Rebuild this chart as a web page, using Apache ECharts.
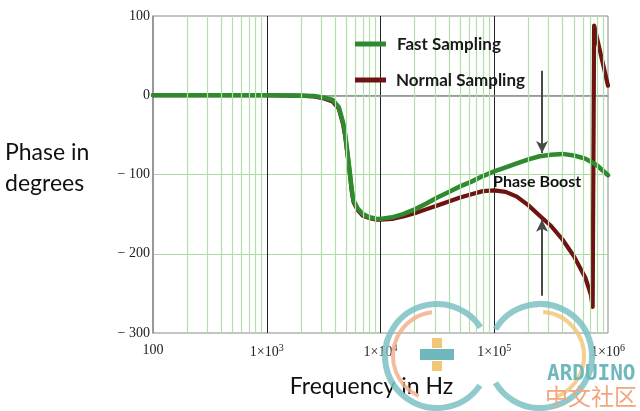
<!DOCTYPE html>
<html>
<head>
<meta charset="utf-8">
<script src="https://cdn.jsdelivr.net/npm/echarts@6/dist/echarts.min.js"></script>
<style>html,body{margin:0;padding:0;background:#fff;}#c{width:640px;height:411px;}</style>
</head>
<body>
<div id="c"></div>
<script>
// ---- data ----
var freqFast  = [100, 1000, 2000, 2600, 3200, 3800, 4300, 4700, 4900, 5200, 5400, 5600, 5800, 6300, 7000, 8000, 9300, 10000, 12600, 15800, 20000, 25100, 31600, 39800, 50100, 63100, 79400, 100000, 126000, 158000, 200000, 251000, 316000, 398000, 501000, 631000, 794000, 1000000];
var phaseFast = [0, 0, -0.5, -1, -3, -6, -15, -35, -50, -80, -100, -120, -133, -143, -150, -154, -156, -156, -154, -150, -144, -137, -129, -122, -115, -109, -102, -96, -91, -86, -81, -77, -75, -74, -76, -80, -88, -101];
var freqNormal  = [100, 1000, 2000, 2600, 3200, 3800, 4300, 4700, 4900, 5200, 5400, 5600, 5800, 6300, 7000, 8000, 9300, 10000, 12600, 15800, 20000, 25100, 31600, 39800, 50100, 63100, 79400, 100000, 126000, 158000, 200000, 251000, 316000, 398000, 501000, 631000, 708000, 733000, 755000, 1000000];
var phaseNormal = [0, 0, -0.5, -1.5, -4, -8, -17, -37, -52, -82, -102, -122, -135, -145, -152, -155, -157, -157, -156, -153, -149, -144, -139, -134, -129, -125, -121, -120, -122, -128, -139, -152, -165, -182, -203, -230, -252, -267, 88, 12];
var seriesNames = ['Fast Sampling', 'Normal Sampling'];
var arrowX = 263000;
var arrowDown = [31, -73];   // top arrow: from, to
var arrowUp = [-253, -157];  // bottom arrow: from, to

function pairs(xs, ys) { return xs.map(function (x, i) { return [x, ys[i]]; }); }

// minor log grid lines (2..9 of each decade)
var minorLines = [];
for (var d = 100; d < 1000000; d *= 10) {
  for (var k = 2; k <= 9; k++) minorLines.push({ xAxis: d * k });
}

var chart = echarts.init(document.getElementById('c'), null, { renderer: 'canvas' });
var serif = '"Liberation Serif","DejaVu Serif",serif';
var sans = 'Lato,"Open Sans","Noto Sans",sans-serif';
var green = '#2f8a2f', red = '#6e1212';

chart.setOption({
  animation: false,
  backgroundColor: '#ffffff',
  grid: { left: 153, right: 32, top: 16, bottom: 78, show: true, borderColor: '#8a8a8a', borderWidth: 1, backgroundColor: 'transparent' },
  xAxis: {
    type: 'log', logBase: 10, min: 100, max: 1000000,
    name: 'Frequency in Hz', nameLocation: 'middle', nameGap: 42,
    nameTextStyle: { fontFamily: sans, fontSize: 23, color: '#111', padding: [0, 18, 0, 0] },
    axisLine: { show: true, lineStyle: { color: '#8a8a8a', width: 1.5 } },
    axisTick: { show: false },
    axisLabel: {
      margin: 10, color: '#222', fontFamily: serif, fontSize: 14,
      formatter: function (v) {
        var e = Math.round(Math.log10(v));
        if (e === 2) return '100';
        return '1×10{sup|' + e + '}';
      },
      rich: { sup: { fontFamily: serif, fontSize: 10, verticalAlign: 'top', padding: [0, 0, 8, 0] } }
    },
    splitLine: { show: true, showMinLine: false, showMaxLine: false, lineStyle: { color: '#222', width: 1 } }
  },
  yAxis: {
    type: 'value', min: -300, max: 100, interval: 100,
    axisLine: { show: true, lineStyle: { color: '#8a8a8a', width: 1.5 } },
    axisTick: { show: false },
    axisLabel: {
      margin: 3, color: '#222', fontFamily: serif, fontSize: 14,
      formatter: function (v) { return v < 0 ? '− ' + Math.abs(v) : String(v); }
    },
    splitLine: { show: true, showMinLine: false, showMaxLine: false, lineStyle: { color: '#a9dba0', width: 1.2 } }
  },
  series: [
    {
      name: 'minor', type: 'line', data: [], z: 1, silent: true,
      markLine: { silent: true, symbol: ['none', 'none'], label: { show: false },
        lineStyle: { color: '#b3e0aa', width: 1.2, type: 'solid' }, data: minorLines, animation: false }
    },
    {
      name: seriesNames[1], type: 'line', data: pairs(freqNormal, phaseNormal), z: 3,
      symbol: 'none', smooth: false, color: red,
      lineStyle: { color: red, width: 4.2, join: 'round', cap: 'round' }
    },
    {
      name: seriesNames[0], type: 'line', data: pairs(freqFast, phaseFast), z: 4,
      symbol: 'none', smooth: false, color: green,
      lineStyle: { color: green, width: 4.5, join: 'round', cap: 'round' }
    },
    {
      name: 'arrows', type: 'line', data: [], z: 2, silent: true,
      markLine: {
        silent: true, symbol: ['none', 'arrow'], symbolSize: [9, 12], label: { show: false },
        lineStyle: { color: '#4a4a4a', width: 2, type: 'solid' },
        data: [
          [{ coord: [arrowX, arrowDown[0]] }, { coord: [arrowX, arrowDown[1]] }],
          [{ coord: [arrowX, arrowUp[0]] }, { coord: [arrowX, arrowUp[1]] }]
        ],
        animation: false
      }
    }
  ],
  graphic: [
    // legend
    { type: 'line', z: 10, shape: { x1: 355, y1: 44, x2: 386, y2: 44 }, style: { stroke: green, lineWidth: 5 } },
    { type: 'text', z: 10, left: 397, top: 36, style: { text: seriesNames[0], fontFamily: sans, fontWeight: 'bold', fontSize: 17, fill: '#1a1a1a' } },
    { type: 'line', z: 10, shape: { x1: 355, y1: 80, x2: 386, y2: 80 }, style: { stroke: red, lineWidth: 5 } },
    { type: 'text', z: 10, left: 396, top: 72, style: { text: seriesNames[1], fontFamily: sans, fontWeight: 'bold', fontSize: 17, fill: '#1a1a1a' } },
    // axis title & annotation
    { type: 'text', left: 5, top: 137, style: { text: 'Phase in\ndegrees', fontFamily: sans, fontSize: 23, lineHeight: 31, fill: '#111' } },
    { type: 'text', left: 493, top: 174, z: 10, style: { text: 'Phase Boost', fontFamily: sans, fontWeight: 'bold', fontSize: 16, fill: '#111' } },
    // watermark
    { type: 'arc', shape: { cx: 437, cy: 356, r: 52, startAngle: 0.6, endAngle: 5.7 }, style: { stroke: '#7cc1c4', lineWidth: 6, fill: null, opacity: 0.85 }, z: 8 },
    { type: 'arc', shape: { cx: 437, cy: 356, r: 44, startAngle: 2.0, endAngle: 4.6 }, style: { stroke: '#f2b08c', lineWidth: 4, fill: null, opacity: 0.85 }, z: 8 },
    { type: 'arc', shape: { cx: 540, cy: 356, r: 52, startAngle: -2.6, endAngle: 2.6 }, style: { stroke: '#7cc1c4', lineWidth: 6, fill: null, opacity: 0.85 }, z: 8 },
    { type: 'arc', shape: { cx: 540, cy: 356, r: 44, startAngle: -1.5, endAngle: 1.2 }, style: { stroke: '#f2c77a', lineWidth: 4, fill: null, opacity: 0.85 }, z: 8 },
    { type: 'rect', shape: { x: 420, y: 349, width: 34, height: 11 }, style: { fill: '#6fb8bc' }, z: 9 },
    { type: 'rect', shape: { x: 432, y: 338, width: 10, height: 10 }, style: { fill: '#f2c77a' }, z: 9 },
    { type: 'rect', shape: { x: 432, y: 361, width: 10, height: 10 }, style: { fill: '#f2c77a' }, z: 9 },
    { type: 'text', left: 547, top: 364, z: 9, style: { text: 'ARDUINO', fontFamily: '"DejaVu Sans Mono",monospace', fontWeight: 'bold', fontSize: 21, fill: '#6fb8bc' } },
    { type: 'text', left: 545, top: 385, z: 9, style: { text: '中文社区', fontFamily: '"Noto Sans CJK SC",sans-serif', fontSize: 23, fill: '#f0a67e' } }
  ]
});
</script>
</body>
</html>
